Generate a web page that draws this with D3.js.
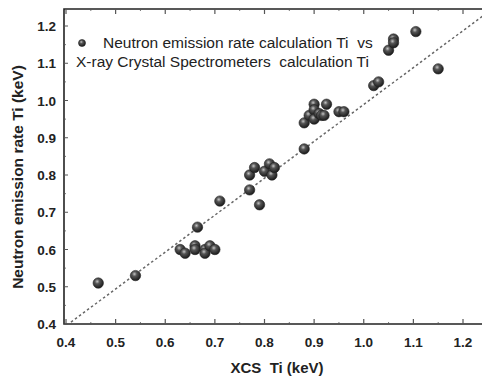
<!DOCTYPE html>
<html>
<head>
<meta charset="utf-8">
<script src="https://cdn.jsdelivr.net/npm/d3@7"></script>
<style>
  body { margin: 0; background: #fff; }
  text { font-family: "Liberation Sans", Arial, sans-serif; fill: #222; white-space: pre; }
</style>
</head>
<body>
<div id="chart"></div>
<script>
// XCS Ti (x) vs neutron emission rate Ti (y), keV
var xcsTi = [0.465, 0.54, 0.63, 0.64, 0.66, 0.66, 0.68, 0.68, 0.69, 0.70, 0.665, 0.71,
    0.77, 0.77, 0.78, 0.79, 0.80, 0.81, 0.815, 0.82, 0.88, 0.88, 0.89, 0.90, 0.90, 0.90,
    0.91, 0.915, 0.92, 0.925, 0.95, 0.96, 1.02, 1.03, 1.05, 1.06, 1.06, 1.105, 1.15];
var neutronTi = [0.51, 0.53, 0.60, 0.59, 0.61, 0.60, 0.60, 0.59, 0.61, 0.60, 0.66, 0.73,
    0.76, 0.80, 0.82, 0.72, 0.81, 0.83, 0.80, 0.82, 0.87, 0.94, 0.96, 0.99, 0.975, 0.95,
    0.965, 0.96, 0.96, 0.99, 0.97, 0.97, 1.04, 1.05, 1.135, 1.165, 1.155, 1.185, 1.085];
var fitX = [0.41, 1.245];
var fitY = [0.405, 1.232];
var xTicks = [0.4, 0.5, 0.6, 0.7, 0.8, 0.9, 1.0, 1.1, 1.2];
var yTicks = [0.4, 0.5, 0.6, 0.7, 0.8, 0.9, 1.0, 1.1, 1.2];

var width = 482, height = 376;

var svg = d3.select("#chart").append("svg")
    .attr("width", width)
    .attr("height", height);

var defs = svg.append("defs");
var grad = defs.append("radialGradient")
    .attr("id", "ball")
    .attr("cx", "40%").attr("cy", "35%").attr("r", "65%");
grad.append("stop").attr("offset", "0%").attr("stop-color", "#c4c4c4");
grad.append("stop").attr("offset", "35%").attr("stop-color", "#555");
grad.append("stop").attr("offset", "100%").attr("stop-color", "#1a1a1a");

// 0.4 sits at x=66, 1.2 at x=463
var x = d3.scaleLinear().domain([0.4, 1.2]).range([66, 463]);
var y = d3.scaleLinear().domain([0.4, 1.2]).range([324, 26]);

var x0 = 64, x1 = width + 2, y0 = 9, y1 = 324;

// frame
svg.append("path")
    .attr("d", "M" + x1 + "," + y0 + "H" + x0 + "V" + y1 + "H" + x1)
    .attr("fill", "none")
    .attr("stroke", "#222")
    .attr("stroke-width", 1.6);

// inward ticks (major + minor) on bottom, top, left
var minorX = d3.range(0.45, 1.25, 0.1);
var minorY = d3.range(0.45, 1.25, 0.1);
var tickG = svg.append("g").attr("stroke", "#555");
xTicks.forEach(function(d) {
    tickG.append("line").attr("x1", x(d)).attr("x2", x(d)).attr("y1", y1).attr("y2", y1 - 5).attr("stroke-width", 1.2);
    tickG.append("line").attr("x1", x(d)).attr("x2", x(d)).attr("y1", y0).attr("y2", y0 + 5).attr("stroke-width", 1.2);
});
minorX.forEach(function(d) {
    tickG.append("line").attr("x1", x(d)).attr("x2", x(d)).attr("y1", y1).attr("y2", y1 - 2).attr("stroke-width", 0.8);
    tickG.append("line").attr("x1", x(d)).attr("x2", x(d)).attr("y1", y0).attr("y2", y0 + 2).attr("stroke-width", 0.8);
});
yTicks.forEach(function(d) {
    tickG.append("line").attr("x1", x0).attr("x2", x0 + 4).attr("y1", y(d)).attr("y2", y(d)).attr("stroke-width", 1);
});
minorY.forEach(function(d) {
    tickG.append("line").attr("x1", x0).attr("x2", x0 + 2).attr("y1", y(d)).attr("y2", y(d)).attr("stroke-width", 0.8);
});

// tick labels
svg.append("g").selectAll("text")
    .data(xTicks)
    .join("text")
    .attr("x", function(d) { return x(d); })
    .attr("y", 347)
    .attr("text-anchor", "middle")
    .style("font-size", "13.5px")
    .style("font-weight", "bold")
    .text(d3.format(".1f"));

svg.append("g").selectAll("text")
    .data(yTicks)
    .join("text")
    .attr("x", 56)
    .attr("y", function(d) { return y(d) + 5; })
    .attr("text-anchor", "end")
    .style("font-size", "13.5px")
    .style("font-weight", "bold")
    .text(d3.format(".1f"));

// axis titles
svg.append("text")
    .attr("x", 277).attr("y", 373)
    .attr("text-anchor", "middle")
    .style("font-size", "15px")
    .style("font-weight", "bold")
    .text("XCS  Ti (keV)");

svg.append("text")
    .attr("transform", "translate(23,177) rotate(-90)")
    .attr("text-anchor", "middle")
    .style("font-size", "15.5px")
    .style("font-weight", "bold")
    .text("Neutron emission rate Ti (keV)");

// fit line
svg.append("line")
    .attr("x1", x(fitX[0])).attr("y1", y(fitY[0]))
    .attr("x2", x(fitX[1])).attr("y2", y(fitY[1]))
    .attr("stroke", "#666")
    .attr("stroke-width", 1.5)
    .attr("stroke-dasharray", "2.5,2.5");

// points
svg.append("g").selectAll("circle")
    .data(xcsTi)
    .join("circle")
    .attr("cx", function(d) { return x(d); })
    .attr("cy", function(d, i) { return y(neutronTi[i]); })
    .attr("r", 5.2)
    .attr("fill", "url(#ball)")
    .attr("stroke", "#222")
    .attr("stroke-width", 0.6);

// legend
svg.append("circle")
    .attr("cx", 82).attr("cy", 43).attr("r", 3.5)
    .attr("fill", "url(#ball)")
    .attr("stroke", "#222")
    .attr("stroke-width", 0.6);
svg.append("text")
    .attr("x", 103).attr("y", 48)
    .style("font-size", "15.5px")
    .text("Neutron emission rate calculation Ti  vs");
svg.append("text")
    .attr("x", 76).attr("y", 67)
    .style("font-size", "15.5px")
    .text("X-ray Crystal Spectrometers  calculation Ti");
</script>
</body>
</html>
